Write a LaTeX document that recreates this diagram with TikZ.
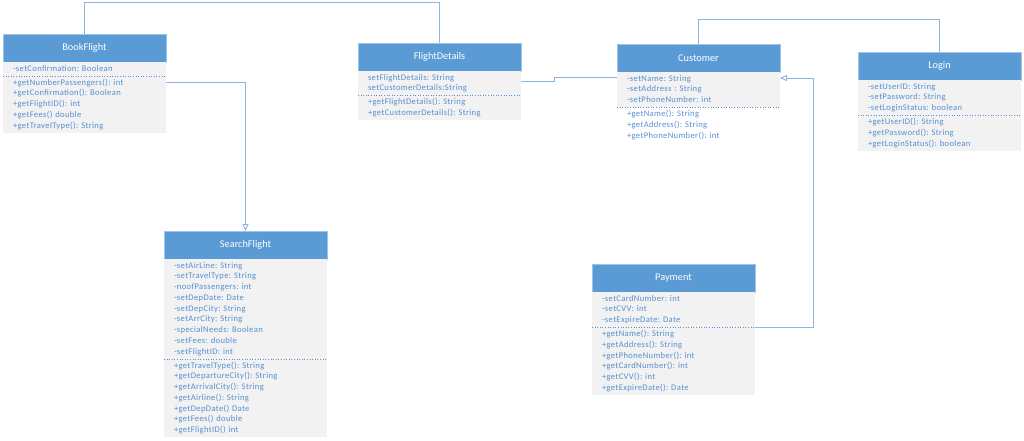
\documentclass[tikz,border=0pt]{standalone}
\usepackage{fontspec}
\setmainfont{Carlito}
\newfontfamily\rowfont[LetterSpace=4]{Carlito}
\usepackage{tikz}
\usetikzlibrary{arrows.meta, positioning}
\frenchspacing

\definecolor{hdrblue}{HTML}{5B9BD5}
\definecolor{hdredge}{HTML}{9DC3E6}
\definecolor{bodygray}{HTML}{F2F2F2}
\definecolor{txtblue}{HTML}{5590D0}
\definecolor{linkblue}{HTML}{8DB4E2}

\begin{document}
\begin{tikzpicture}[
    x=1pt, y=-1pt,
    hdr/.style={rectangle, draw=hdredge, fill=hdrblue, text=white, line width=0.6pt,
                font=\fontsize{10.3}{12}\selectfont, minimum width=163pt,
                minimum height=28pt, anchor=north west, outer sep=0pt},
    sect/.style={rectangle, fill=bodygray, text=txtblue, align=left,
                 text width=143pt, inner xsep=10pt, inner ysep=1.6pt, outer sep=0pt,
                 font=\rowfont\fontsize{8.6}{10.75}\selectfont,
                 execute at begin node=\strut, execute at end node=\strut},
    bare/.style={sect, fill=none},
    divider/.style={draw=txtblue, dotted, line width=0.6pt},
    link/.style={draw=linkblue, line width=0.9pt},
    gen/.style={link, -{Triangle[open, length=7pt, width=6pt]}}
]
\useasboundingbox (0,0) rectangle (1024,441);

% BookFlight
\node[hdr] (bf) at (3,34) {BookFlight};
\node[sect, below=0pt of bf]   (bf-a) {-setConfirmation: Boolean};
\node[sect, below=0pt of bf-a] (bf-m) {+getNumberPassengers(): int\\+getConfirmation(): Boolean\\
  +getFlightID(): int\\+getFees() double\\+getTravelType(): String};

% FlightDetails
\node[hdr] (fd) at (358,43) {FlightDetails};
\node[sect, below=0pt of fd]   (fd-a) {setFlightDetails: String\\setCustomerDetails:String};
\node[sect, below=0pt of fd-a] (fd-m) {+getFlightDetails(): String\\+getCustomerDetails(): String};

% Customer
\node[hdr] (cu) at (617,44) {Customer};
\node[sect, below=0pt of cu]   (cu-a) {-setName: String\\-setAddress : String\\-setPhoneNumber: int};
\node[bare, below=0pt of cu-a] (cu-m) {+getName(): String\\+getAddress(): String\\+getPhoneNumber(): int};

% Login
\node[hdr] (lg) at (858,52) {Login};
\node[sect, below=0pt of lg]   (lg-a) {-setUserID: String\\-setPassword: String\\-setLoginStatus: boolean};
\node[sect, below=0pt of lg-a] (lg-m) {+getUserID(): String\\+getPassword(): String\\+getLoginStatus(): boolean};

% SearchFlight
\node[hdr] (sf) at (164,231) {SearchFlight};
\node[sect, below=0pt of sf]   (sf-a) {-setAirLine: String\\-setTravelType: String\\-noofPassengers: int\\
  -setDepDate: Date\\-setDepCity: String\\-setArrCity: String\\-specialNeeds: Boolean\\
  -setFees: double\\-setFlightID: int};
\node[sect, below=0pt of sf-a] (sf-m) {+getTravelType(): String\\+getDepartureCity(): String\\
  +getArrivalCity(): String\\+getAirline(): String\\+getDepDate() Date\\+getFees() double\\
  +getFlightID() int};

% Payment
\node[hdr] (pm) at (592,264) {Payment};
\node[sect, below=0pt of pm]   (pm-a) {-setCardNumber: int\\-setCVV: int\\-setExpireDate: Date};
\node[sect, below=0pt of pm-a] (pm-m) {+getName(): String\\+getAddress(): String\\+getPhoneNumber(): int\\
  +getCardNumber(): int\\+getCVV(): int\\+getExpireDate(): Date};

\foreach \c in {bf,fd,cu,lg,sf,pm}
  \draw[divider] (\c-a.south west) -- (\c-a.south east);

\draw[link] (bf.north) -- ++(0,-32) -| (fd.north);
\draw[link] (cu.north) -- ++(0,-25) -| (lg.north);
\draw[link] ([yshift=-10pt]fd-a.north east) -- ++(33,0) |- ([yshift=-5pt]cu-a.north west);
\draw[gen]  (pm-a.south east) -- ++(58,0) |- ([yshift=-6pt]cu-a.north east);
\draw[gen]  ([yshift=-7pt]bf-a.south east) -| (sf.north);

\end{tikzpicture}
\end{document}
